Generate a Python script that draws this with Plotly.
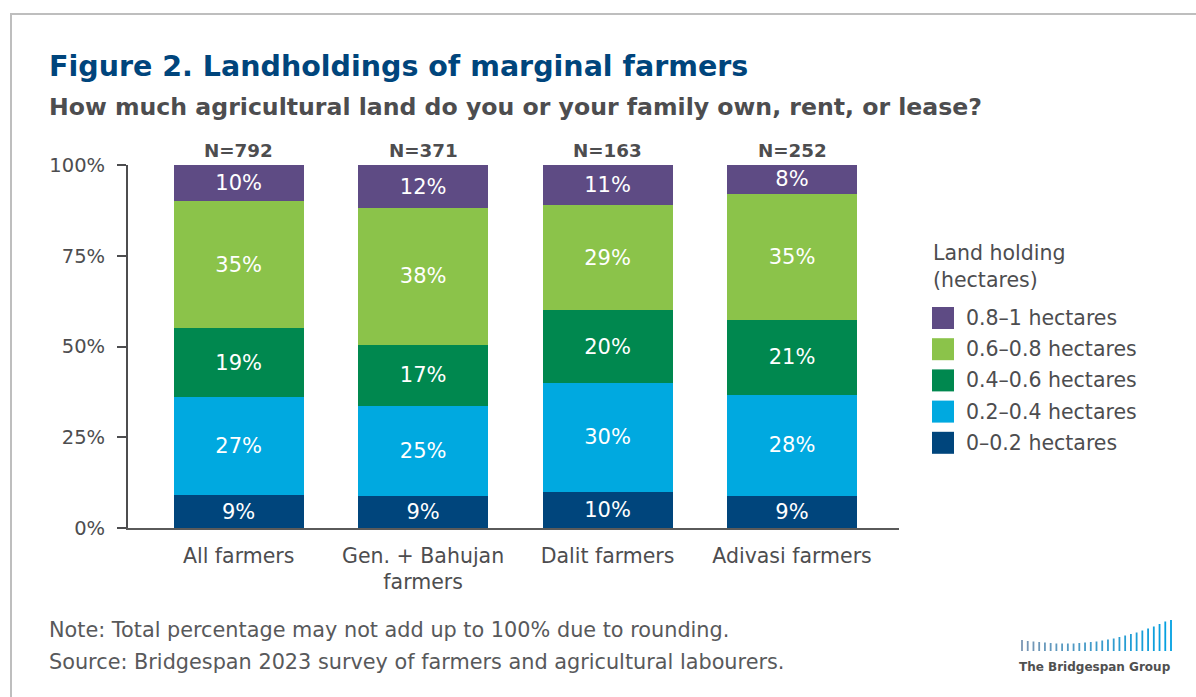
import plotly.graph_objects as go

# --- data -------------------------------------------------------------
categories = ["All farmers", "Gen. + Bahujan<br>farmers", "Dalit farmers", "Adivasi farmers"]
sample_sizes = [792, 371, 163, 252]

series_names = ["0–0.2 hectares", "0.2–0.4 hectares", "0.4–0.6 hectares",
                "0.6–0.8 hectares", "0.8–1 hectares"]
share_0_02 = [9, 9, 10, 9]
share_02_04 = [27, 25, 30, 28]
share_04_06 = [19, 17, 20, 21]
share_06_08 = [35, 38, 29, 35]
share_08_1 = [10, 12, 11, 8]
series_values = [share_0_02, share_02_04, share_04_06, share_06_08, share_08_1]
series_colors = ["#00457C", "#00A9E0", "#00884F", "#8BC34A", "#5E4B84"]

y_tick_values = [0, 25, 50, 75, 100]
y_tick_labels = ["0%", "25%", "50%", "75%", "100%"]

FONT = "DejaVu Sans"
GRAY = "#4D4D4F"

# --- layout geometry (pixels) -------------------------------------------
W, H = 1196, 697
ML, MR, MT, MB = 128, 297, 165, 169
PW = W - ML - MR
PH = H - MT - MB


def px(x):
    return (x - ML) / PW


def py(y):
    return (H - MB - y) / PH


fig = go.Figure()

for name, vals, color in zip(series_names, series_values, series_colors):
    fig.add_trace(go.Bar(
        name=name,
        x=categories,
        y=vals,
        width=0.705,
        marker=dict(color=color, line=dict(width=0)),
        text=[f"{v}%" for v in vals],
        textposition="inside",
        insidetextanchor="middle",
        textangle=0,
        constraintext="none",
        textfont=dict(family=FONT, size=21, color="white"),
        showlegend=False,
        hoverinfo="skip",
    ))

annotations = []

# sample size above each bar
for cat, n in zip(categories, sample_sizes):
    annotations.append(dict(
        x=cat, y=100, xref="x", yref="y", text=f"N={n}", showarrow=False,
        yanchor="bottom", yshift=2,
        font=dict(family=FONT, size=18.3, color=GRAY, weight=700),
    ))

# title and subtitle
annotations.append(dict(
    x=px(47), y=py(67), xref="paper", yref="paper", xanchor="left", yanchor="middle",
    text="Figure 2. Landholdings of marginal farmers", showarrow=False,
    font=dict(family=FONT, size=28.5, color="#00457C", weight=700),
))
annotations.append(dict(
    x=px(47), y=py(107), xref="paper", yref="paper", xanchor="left", yanchor="middle",
    text="How much agricultural land do you or your family own, rent, or lease?",
    showarrow=False,
    font=dict(family=FONT, size=23.6, color=GRAY, weight=700),
))

# legend built from the series
shapes = []
annotations.append(dict(
    x=px(931), y=py(239), xref="paper", yref="paper", xanchor="left", yanchor="top",
    text="Land holding<br>(hectares)", showarrow=False, align="left",
    font=dict(family=FONT, size=20.5, color=GRAY),
))
legend_top = 318
legend_step = 31.2
for i, (name, color) in enumerate(zip(series_names[::-1], series_colors[::-1])):
    cy = legend_top + i * legend_step
    shapes.append(dict(
        type="rect", xref="paper", yref="paper",
        x0=px(932), x1=px(954), y0=py(cy + 11), y1=py(cy - 11),
        fillcolor=color, line=dict(width=0),
    ))
    annotations.append(dict(
        x=px(964), y=py(cy), xref="paper", yref="paper", xanchor="left", yanchor="middle",
        text=name, showarrow=False,
        font=dict(family=FONT, size=20.5, color=GRAY),
    ))

# notes
annotations.append(dict(
    x=px(47), y=py(630), xref="paper", yref="paper", xanchor="left", yanchor="middle",
    text="Note: Total percentage may not add up to 100% due to rounding.",
    showarrow=False, font=dict(family=FONT, size=20.8, color="#58595B"),
))
annotations.append(dict(
    x=px(47), y=py(662), xref="paper", yref="paper", xanchor="left", yanchor="middle",
    text="Source: Bridgespan 2023 survey of farmers and agricultural labourers.",
    showarrow=False, font=dict(family=FONT, size=20.8, color="#58595B"),
))

# outer frame
shapes.append(dict(
    type="rect", xref="paper", yref="paper",
    x0=px(11), x1=px(1230), y0=py(740), y1=py(14),
    line=dict(color="#BEBEBE", width=2), fillcolor="rgba(0,0,0,0)", layer="below",
))

# organisation mark: rising bars and name
mark_heights = [11, 10, 9.5, 9, 8.5, 8, 7.5, 7.5, 7.5, 7.5, 8, 8.5, 9, 9.5, 10.5,
                11.5, 12.5, 14, 15.5, 17, 18.5, 20.5, 22.5, 24.5, 27, 29.5, 31]
n_marks = len(mark_heights)
start_col = (122, 150, 180)
end_col = (0, 160, 225)
for i, h in enumerate(mark_heights):
    t = i / (n_marks - 1)
    c = tuple(round(a + (b - a) * t) for a, b in zip(start_col, end_col))
    x = 1022 + i * (149 / (n_marks - 1))
    shapes.append(dict(
        type="line", xref="paper", yref="paper",
        x0=px(x), x1=px(x), y0=py(651), y1=py(651 - h),
        line=dict(color=f"rgb{c}", width=1.8),
    ))
annotations.append(dict(
    x=px(1095), y=py(667), xref="paper", yref="paper", xanchor="center", yanchor="middle",
    text="The Bridgespan Group", showarrow=False,
    font=dict(family=FONT, size=12, color="#505050", weight=700),
))

fig.update_layout(
    width=W, height=H,
    margin=dict(l=ML, r=MR, t=MT, b=MB, pad=0),
    paper_bgcolor="white", plot_bgcolor="white",
    barmode="stack", barnorm="percent",
    showlegend=False,
    font=dict(family=FONT, color=GRAY),
    annotations=annotations,
    shapes=shapes,
    xaxis=dict(
        range=[-0.6, 3.58], showgrid=False, zeroline=False,
        showline=True, linecolor="#5A5A5A", linewidth=2,
        ticks="", ticklabelstandoff=8,
        tickfont=dict(family=FONT, size=20.5, color=GRAY),
        fixedrange=True,
    ),
    yaxis=dict(
        range=[0, 100], tickvals=y_tick_values, ticktext=y_tick_labels,
        showgrid=False, zeroline=False,
        showline=True, linecolor="#4D4D4F", linewidth=2,
        ticks="outside", ticklen=9, tickwidth=2, tickcolor="#4D4D4F",
        ticklabelstandoff=8,
        tickfont=dict(family=FONT, size=19.5, color=GRAY),
        fixedrange=True,
    ),
)

fig.write_html("out.html")
